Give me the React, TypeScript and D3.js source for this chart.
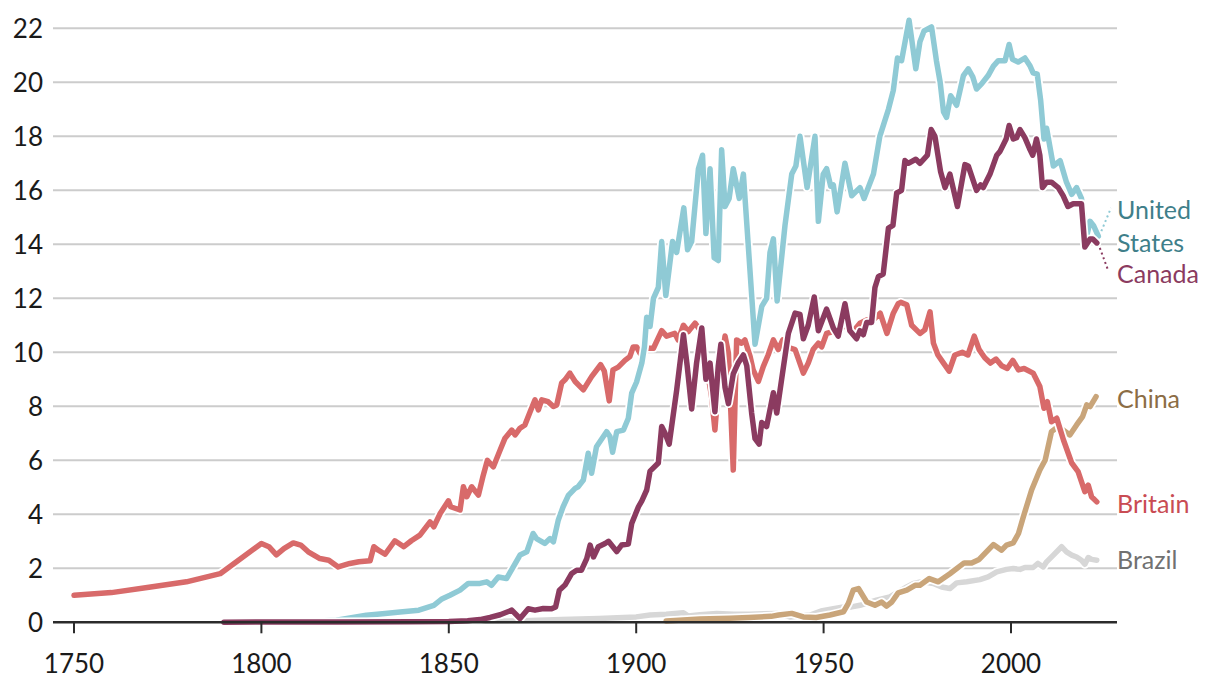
import React from "react";
import * as d3 from "d3";

type Pt = [number, number];

const xTicks = [1750, 1800, 1850, 1900, 1950, 2000];
const yTicks = [0, 2, 4, 6, 8, 10, 12, 14, 16, 18, 20, 22];

const britain: Pt[] = [
  [1750, 1.0], [1760, 1.1], [1770, 1.3], [1780, 1.5], [1789, 1.8], [1800, 2.92], [1802, 2.8], [1804, 2.5],
  [1806, 2.73], [1808.5, 2.94], [1810.5, 2.86], [1812.5, 2.61], [1815.6, 2.36], [1818, 2.3], [1820.5, 2.05],
  [1823.6, 2.18], [1826, 2.24], [1829, 2.28], [1830, 2.8], [1831.2, 2.67], [1833, 2.52], [1835.6, 3.02],
  [1838, 2.8], [1840, 3.02], [1842.3, 3.23], [1845, 3.72], [1846, 3.54], [1847.7, 4.03], [1849.9, 4.5],
  [1850.5, 4.28], [1853, 4.16], [1853.9, 5.02], [1854.8, 4.65], [1856.1, 5.02], [1857.9, 4.71], [1859.2, 5.45],
  [1860.3, 6.0], [1861.9, 5.76], [1863.7, 6.38], [1865, 6.82], [1866.8, 7.12], [1867.7, 6.94], [1869, 7.19],
  [1870.3, 7.31], [1871.7, 7.8], [1873, 8.24], [1873.9, 7.87], [1874.8, 8.24], [1876.5, 8.17], [1877.9, 7.99],
  [1878.8, 8.05], [1880.1, 8.86], [1881, 8.98], [1882.3, 9.23], [1883.7, 8.92], [1885.9, 8.61], [1888.1, 9.1],
  [1890.5, 9.54], [1891.5, 9.3], [1892.8, 8.2], [1893.8, 9.35], [1895.2, 9.45], [1897, 9.7], [1898.3, 9.84],
  [1899.2, 10.2], [1900.1, 10.2], [1901, 9.97], [1902.3, 10.15], [1904.6, 10.15], [1906.8, 10.8], [1908.1, 10.6],
  [1910.3, 10.7], [1911.2, 10.46], [1912.6, 11.0], [1913.9, 10.77], [1915.7, 11.08], [1917, 10.83], [1918.8, 9.47],
  [1920.1, 8.36], [1921, 7.12], [1921.9, 8.73], [1923.7, 10.6], [1924.6, 9.97], [1925.9, 5.64], [1926.8, 10.46],
  [1928.1, 10.34], [1929, 10.46], [1930.4, 9.84], [1931.2, 9.35], [1932.6, 8.92], [1933.9, 9.47], [1935.2, 9.9],
  [1936.6, 10.46], [1937.9, 10.1], [1939.1, 10.46], [1940.1, 10.2], [1942.4, 10.1], [1944.6, 9.23], [1945.9, 9.6],
  [1947.2, 10.1], [1948.6, 10.34], [1949.5, 10.2], [1950.8, 10.7], [1952.6, 10.77], [1954.4, 10.96], [1956.1, 10.96],
  [1957.9, 10.77], [1959.7, 11.08], [1961.5, 11.2], [1963.3, 11.2], [1965.1, 11.45], [1966.9, 10.7], [1968.6, 11.45],
  [1969.9, 11.8], [1970.6, 11.85], [1972.2, 11.76], [1973.5, 11.0], [1975.7, 10.7], [1977, 10.83], [1978.4, 11.5],
  [1979.3, 10.34], [1980.5, 9.9], [1982, 9.6], [1983.5, 9.3], [1985, 9.9], [1987, 10.0], [1988.5, 9.9],
  [1990.2, 10.6], [1991.5, 10.1], [1993, 9.8], [1994.5, 9.6], [1996, 9.75], [1997.5, 9.5], [1999, 9.4],
  [2000.5, 9.7], [2002, 9.35], [2003.5, 9.4], [2005.9, 9.23], [2007.7, 8.73], [2008.8, 7.93], [2009.7, 8.17],
  [2010.8, 7.43], [2012.2, 7.56], [2014, 6.75], [2016.2, 5.9], [2017.9, 5.58], [2019.7, 4.84], [2020.6, 5.08],
  [2021.5, 4.65], [2022.9, 4.46],
];

const unitedStates: Pt[] = [
  [1800, 0], [1810, 0.02], [1820, 0.08], [1828, 0.26], [1833, 0.33], [1837, 0.38], [1842, 0.45], [1846, 0.63],
  [1848, 0.85], [1850.3, 1.0], [1853, 1.19], [1855.2, 1.44], [1858.3, 1.44], [1860.1, 1.5], [1861.4, 1.37],
  [1863.2, 1.68], [1865.4, 1.62], [1867.2, 2.05], [1869, 2.49], [1870.8, 2.61], [1872.5, 3.29], [1873.4, 3.1],
  [1875.6, 2.92], [1877, 3.1], [1877.9, 2.98], [1879.2, 3.78], [1880.5, 4.28], [1881.9, 4.7], [1883.7, 4.96],
  [1884.5, 5.02], [1885.9, 5.27], [1887.2, 6.26], [1888.1, 5.52], [1889.4, 6.5], [1892.1, 7.06], [1893, 6.88],
  [1893.7, 6.3], [1894.8, 7.06], [1896.6, 7.12], [1897.9, 7.56], [1898.8, 8.49], [1900.1, 8.9], [1901.5, 9.6],
  [1902.2, 10.2], [1902.8, 11.3], [1903.7, 10.96], [1904.6, 12.0], [1905.9, 12.4], [1906.8, 14.1], [1907.9, 12.1],
  [1909.7, 14.1], [1910.8, 13.7], [1912.7, 15.35], [1913.7, 13.8], [1914.8, 14.1], [1916.6, 16.8], [1917.7, 17.3],
  [1918.6, 14.4], [1919.7, 16.8], [1920.8, 13.5], [1921.9, 13.4], [1922.8, 17.5], [1923.7, 15.4], [1924.8, 15.7],
  [1925.9, 16.8], [1927.5, 15.7], [1928.6, 16.6], [1931.7, 10.3], [1933.5, 11.7], [1934.8, 12.0], [1935.7, 13.7],
  [1936.6, 14.2], [1937.6, 11.9], [1939.7, 14.7], [1941.5, 16.6], [1942.6, 16.9], [1943.7, 18.0], [1945.6, 16.1],
  [1947.7, 18.0], [1948.6, 14.85], [1949.9, 16.6], [1950.8, 16.8], [1951.9, 16.15], [1952.6, 16.2], [1953.6, 15.2],
  [1955.7, 17.0], [1957.5, 15.8], [1959.7, 16.1], [1960.8, 15.7], [1963.3, 16.6], [1965, 18.0], [1967.3, 19.0],
  [1968.6, 19.7], [1969.7, 20.9], [1970.8, 20.8], [1972.8, 22.3], [1974.6, 20.5], [1975.7, 21.5], [1976.8, 21.9],
  [1978.8, 22.05], [1980.1, 20.8], [1981.1, 20.0], [1982, 18.9], [1982.8, 18.7], [1983.9, 19.5], [1985.5, 19.15],
  [1987.3, 20.25], [1988.6, 20.5], [1989.8, 20.2], [1990.8, 19.75], [1992.2, 19.95], [1993.9, 20.25], [1995.3, 20.6],
  [1996.6, 20.8], [1998.4, 20.8], [1999.5, 21.4], [2000.4, 20.85], [2001.9, 20.75], [2003.7, 20.9], [2005.1, 20.6],
  [2005.9, 20.35], [2007, 20.3], [2007.9, 19.35], [2008.8, 17.9], [2009.5, 18.3], [2011.3, 16.9], [2013.1, 17.1],
  [2014.8, 16.3], [2016.2, 15.85], [2017.5, 16.1], [2018.8, 15.7], [2020.2, 14.3], [2021.1, 14.85], [2022, 14.7],
  [2023.3, 14.3],
];

const canada: Pt[] = [
  [1790, 0], [1800, 0.01], [1820, 0.01], [1840, 0.02], [1850, 0.03], [1855, 0.06], [1858.3, 0.1], [1861, 0.18],
  [1863.7, 0.28], [1866.8, 0.45], [1869, 0.14], [1871.2, 0.5], [1873, 0.45], [1875.2, 0.51], [1877.4, 0.5],
  [1878.5, 0.57], [1879.5, 1.19], [1881, 1.38], [1882.8, 1.81], [1884.1, 1.93], [1885.4, 1.93], [1886.8, 2.36],
  [1887.7, 2.86], [1888.6, 2.42], [1889.9, 2.8], [1891.7, 2.92], [1892.6, 3.0], [1894.8, 2.62], [1896.1, 2.86],
  [1897.9, 2.9], [1898.8, 3.66], [1900.6, 4.28], [1901.5, 4.5], [1902.8, 4.9], [1903.7, 5.6], [1905.9, 5.9],
  [1906.8, 7.25], [1907.7, 7.0], [1908.8, 6.6], [1910.8, 8.6], [1912.6, 10.65], [1913.6, 9.5], [1914.8, 7.9],
  [1916.1, 9.6], [1917.5, 10.9], [1918.6, 9.0], [1919.7, 9.6], [1921, 7.8], [1921.9, 9.5], [1922.6, 10.3],
  [1923.7, 8.7], [1924.6, 8.1], [1925.9, 9.2], [1927.2, 9.6], [1928.6, 9.9], [1929.5, 9.5], [1930.8, 7.75],
  [1931.7, 6.8], [1932.8, 6.6], [1933.5, 7.4], [1934.8, 7.25], [1936.6, 8.5], [1937.5, 7.75], [1938.8, 9.0],
  [1940.6, 10.7], [1942.4, 11.45], [1943.7, 11.4], [1944.6, 10.5], [1945.9, 11.0], [1947.5, 12.05], [1948.6, 10.8],
  [1950.8, 11.6], [1952.6, 10.9], [1953.9, 10.6], [1955.7, 11.8], [1957, 10.8], [1958.8, 10.5], [1959.7, 10.8],
  [1960.6, 10.65], [1961.5, 11.1], [1962.8, 11.1], [1963.7, 12.4], [1964.6, 12.8], [1965.9, 12.9], [1967.3, 14.6],
  [1968.5, 14.7], [1969.5, 15.9], [1970.8, 16.0], [1971.7, 17.1], [1972.6, 17.0], [1974.6, 17.15], [1975.7, 17.0],
  [1977.7, 17.3], [1978.7, 18.25], [1979.7, 18.0], [1981.2, 16.7], [1982.4, 16.1], [1983.7, 16.6], [1985.7, 15.4],
  [1987.7, 16.95], [1988.6, 16.9], [1990.8, 16.0], [1991.9, 16.2], [1992.6, 16.1], [1994.4, 16.6], [1996.2, 17.3],
  [1997.1, 17.45], [1998.7, 17.9], [1999.5, 18.4], [2000.6, 17.9], [2001.5, 17.95], [2002.4, 18.25], [2003.7, 17.95],
  [2005.1, 17.5], [2005.8, 17.3], [2006.8, 17.9], [2007.7, 17.3], [2008.4, 16.1], [2009.5, 16.3], [2010.8, 16.3],
  [2012.6, 16.1], [2013.9, 15.8], [2015.2, 15.4], [2016.6, 15.5], [2017.9, 15.5], [2018.8, 15.5], [2019.7, 13.9],
  [2021.1, 14.2], [2021.8, 14.2], [2022.9, 14.05],
];

const china: Pt[] = [
  [1908, 0.05], [1917, 0.12], [1925, 0.15], [1930, 0.18], [1936, 0.22], [1938, 0.27], [1941.5, 0.33], [1944.6, 0.2],
  [1948, 0.18], [1951.7, 0.27], [1955.3, 0.39], [1956.6, 0.7], [1957.9, 1.19], [1959.3, 1.25], [1961.5, 0.75],
  [1963.7, 0.63], [1965.5, 0.75], [1966.8, 0.6], [1968.2, 0.75], [1969.9, 1.09], [1972.2, 1.19], [1974.4, 1.37],
  [1975.7, 1.37], [1978.2, 1.62], [1980.6, 1.5], [1983.7, 1.8], [1987.5, 2.2], [1989.5, 2.2], [1991.5, 2.33],
  [1995.3, 2.88], [1997.5, 2.67], [1998.8, 2.86], [2000.6, 2.94], [2002, 3.29], [2003.3, 3.91], [2005.5, 4.9],
  [2007.7, 5.64], [2009.1, 6.0], [2010.8, 7.06], [2012.6, 7.25], [2013.9, 7.12], [2015.7, 6.94], [2017.5, 7.31],
  [2019.1, 7.62], [2020.2, 8.05], [2021.1, 7.99], [2022.7, 8.36],
];

const brazil: Pt[] = [
  [1850, 0.02], [1860, 0.04], [1870, 0.06], [1880, 0.1], [1890, 0.14], [1900, 0.2], [1903.7, 0.27], [1908, 0.3],
  [1912.6, 0.35], [1913.9, 0.23], [1917, 0.28], [1921.5, 0.33], [1926, 0.3], [1930.4, 0.3], [1937.5, 0.33],
  [1941, 0.2], [1946.4, 0.27], [1949.3, 0.42], [1952.6, 0.5], [1955.3, 0.57], [1957.5, 0.57], [1959.7, 0.63],
  [1964.1, 0.82], [1967.7, 0.94], [1972.2, 1.31], [1974, 1.44], [1976.2, 1.5], [1979.3, 1.44], [1981.5, 1.31],
  [1983.7, 1.25], [1985.5, 1.46], [1988.2, 1.5], [1991.7, 1.58], [1993.9, 1.68], [1996.2, 1.87], [1998.8, 1.96],
  [2000.6, 1.99], [2002.4, 1.96], [2003.7, 2.03], [2005.9, 2.03], [2007.2, 2.18], [2008.6, 2.05], [2009.5, 2.24],
  [2011.3, 2.49], [2013.5, 2.8], [2014.8, 2.61], [2016.2, 2.49], [2017.5, 2.42], [2018.8, 2.3], [2019.7, 2.15],
  [2020.6, 2.4], [2021.5, 2.33], [2022.9, 2.3],
];

const seriesOrder = [
  { key: "Brazil", data: brazil, color: "#d7d7d7" },
  { key: "China", data: china, color: "#c9a57a" },
  { key: "Britain", data: britain, color: "#d86a6a" },
  { key: "United States", data: unitedStates, color: "#8fcad5" },
  { key: "Canada", data: canada, color: "#8b3b60" },
];

const labels = [
  { lines: ["United", "States"], color: "#3f7f8a", y: 219 },
  { lines: ["Canada"], color: "#8b3b60", y: 283 },
  { lines: ["China"], color: "#8c6d45", y: 408 },
  { lines: ["Britain"], color: "#c94c53", y: 513 },
  { lines: ["Brazil"], color: "#717171", y: 569 },
];

const FONT = "Lato, 'Open Sans', sans-serif";

export default function App() {
  const W = 1220;
  const H = 688;
  const x = d3.scaleLinear().domain([1750, 2000]).range([74, 1011]);
  const y = d3.scaleLinear().domain([0, 22]).range([622.3, 28.3]);
  const gridX0 = 53;
  const gridX1 = 1117;

  const line = d3
    .line<Pt>()
    .x((d) => x(d[0]))
    .y((d) => y(d[1]))
    .curve(d3.curveLinear);

  const usLast = unitedStates[unitedStates.length - 1];
  const caLast = canada[canada.length - 1];

  return (
    <svg
      width={W}
      height={H}
      style={{ position: "absolute", left: 0, top: 0, background: "#fff" }}
      fontFamily={FONT}
    >
      {yTicks.map((t) => (
        <g key={t}>
          {t !== 0 && (
            <line x1={gridX0} x2={gridX1} y1={y(t)} y2={y(t)} stroke="#cccccc" strokeWidth={2} />
          )}
          <text x={43} y={y(t)} dy="0.36em" textAnchor="end" fontSize={26} fill="#1a1a1a">
            {t}
          </text>
        </g>
      ))}

      {seriesOrder.map((s) => (
        <g key={s.key}>
          <path
            d={line(s.data) || ""}
            fill="none"
            stroke="#ffffff"
            strokeWidth={9}
            strokeLinejoin="round"
            strokeLinecap="round"
          />
          <path
            d={line(s.data) || ""}
            fill="none"
            stroke={s.color}
            strokeWidth={5.5}
            strokeLinejoin="round"
            strokeLinecap="round"
          />
        </g>
      ))}

      <line
        x1={x(usLast[0]) + 3}
        y1={y(usLast[1]) - 5}
        x2={1111}
        y2={208}
        stroke="#8fcad5"
        strokeWidth={2}
        strokeDasharray="2 3"
      />
      <line
        x1={x(caLast[0]) + 3}
        y1={y(caLast[1]) + 5}
        x2={1108}
        y2={270}
        stroke="#8b3b60"
        strokeWidth={2}
        strokeDasharray="2 3"
      />

      <line x1={gridX0} x2={gridX1} y1={y(0)} y2={y(0)} stroke="#2b2b2b" strokeWidth={2.5} />
      {xTicks.map((t) => (
        <g key={t}>
          <line x1={x(t)} x2={x(t)} y1={y(0)} y2={y(0) + 11} stroke="#2b2b2b" strokeWidth={2} />
          <text x={x(t)} y={673} textAnchor="middle" fontSize={26} fill="#1a1a1a">
            {t}
          </text>
        </g>
      ))}

      {labels.map((l) => (
        <text key={l.lines[0]} x={1117} y={l.y} fontSize={25} fill={l.color}>
          {l.lines.map((ln, i) => (
            <tspan key={ln} x={1117} dy={i === 0 ? 0 : 33}>
              {ln}
            </tspan>
          ))}
        </text>
      ))}
    </svg>
  );
}
